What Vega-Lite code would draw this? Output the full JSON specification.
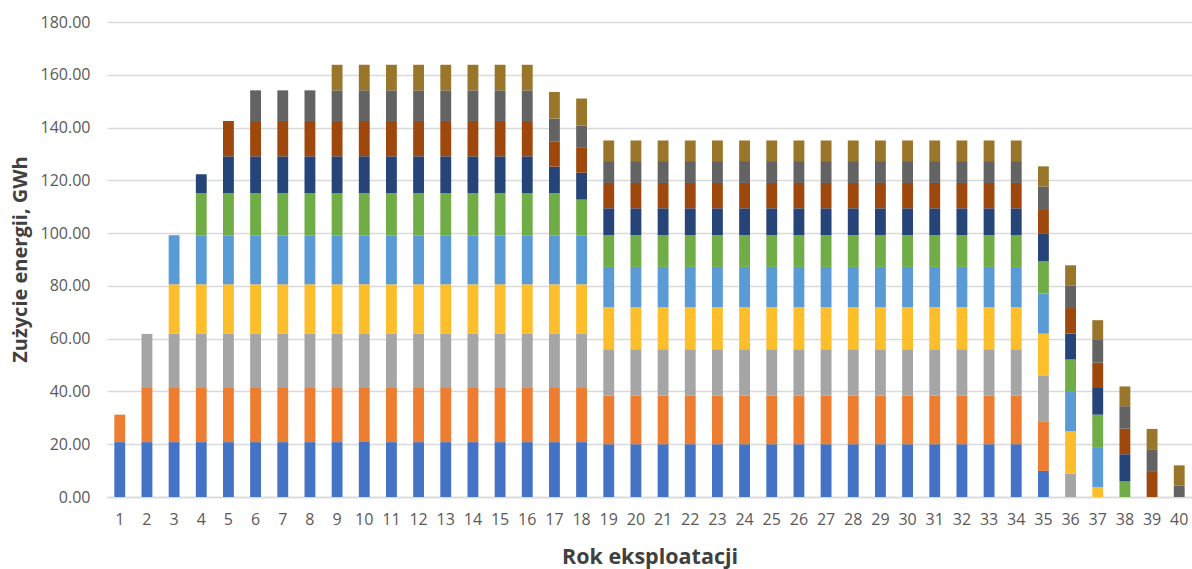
{
  "$schema": "https://vega.github.io/schema/vega-lite/v6.json",
  "width": 1085,
  "height": 475,
  "autosize": {"type": "none"},
  "padding": {"left": 107, "top": 22, "right": 0, "bottom": 72},
  "background": "#ffffff",
  "config": {
    "view": {"stroke": null},
    "font": "Open Sans"
  },
  "data": {
    "values": [
      {"rok": 1, "s01": 20.8, "s02": 10.4},
      {"rok": 2, "s01": 20.8, "s02": 20.5, "s03": 20.5},
      {"rok": 3, "s01": 20.8, "s02": 20.5, "s03": 20.5, "s04": 18.8, "s05": 18.6},
      {"rok": 4, "s01": 20.8, "s02": 20.5, "s03": 20.5, "s04": 18.8, "s05": 18.6, "s06": 16.0, "s07": 7.1},
      {"rok": 5, "s01": 20.8, "s02": 20.5, "s03": 20.5, "s04": 18.8, "s05": 18.6, "s06": 16.0, "s07": 13.9, "s08": 13.4},
      {"rok": 6, "s01": 20.8, "s02": 20.5, "s03": 20.5, "s04": 18.8, "s05": 18.6, "s06": 16.0, "s07": 13.9, "s08": 13.4, "s09": 11.6},
      {"rok": 7, "s01": 20.8, "s02": 20.5, "s03": 20.5, "s04": 18.8, "s05": 18.6, "s06": 16.0, "s07": 13.9, "s08": 13.4, "s09": 11.6},
      {"rok": 8, "s01": 20.8, "s02": 20.5, "s03": 20.5, "s04": 18.8, "s05": 18.6, "s06": 16.0, "s07": 13.9, "s08": 13.4, "s09": 11.6},
      {"rok": 9, "s01": 20.8, "s02": 20.5, "s03": 20.5, "s04": 18.8, "s05": 18.6, "s06": 16.0, "s07": 13.9, "s08": 13.4, "s09": 11.6, "s10": 9.7},
      {"rok": 10, "s01": 20.8, "s02": 20.5, "s03": 20.5, "s04": 18.8, "s05": 18.6, "s06": 16.0, "s07": 13.9, "s08": 13.4, "s09": 11.6, "s10": 9.7},
      {"rok": 11, "s01": 20.8, "s02": 20.5, "s03": 20.5, "s04": 18.8, "s05": 18.6, "s06": 16.0, "s07": 13.9, "s08": 13.4, "s09": 11.6, "s10": 9.7},
      {"rok": 12, "s01": 20.8, "s02": 20.5, "s03": 20.5, "s04": 18.8, "s05": 18.6, "s06": 16.0, "s07": 13.9, "s08": 13.4, "s09": 11.6, "s10": 9.7},
      {"rok": 13, "s01": 20.8, "s02": 20.5, "s03": 20.5, "s04": 18.8, "s05": 18.6, "s06": 16.0, "s07": 13.9, "s08": 13.4, "s09": 11.6, "s10": 9.7},
      {"rok": 14, "s01": 20.8, "s02": 20.5, "s03": 20.5, "s04": 18.8, "s05": 18.6, "s06": 16.0, "s07": 13.9, "s08": 13.4, "s09": 11.6, "s10": 9.7},
      {"rok": 15, "s01": 20.8, "s02": 20.5, "s03": 20.5, "s04": 18.8, "s05": 18.6, "s06": 16.0, "s07": 13.9, "s08": 13.4, "s09": 11.6, "s10": 9.7},
      {"rok": 16, "s01": 20.8, "s02": 20.5, "s03": 20.5, "s04": 18.8, "s05": 18.6, "s06": 16.0, "s07": 13.9, "s08": 13.4, "s09": 11.6, "s10": 9.7},
      {"rok": 17, "s01": 20.8, "s02": 20.5, "s03": 20.5, "s04": 18.8, "s05": 18.6, "s06": 16.0, "s07": 10.0, "s08": 9.6, "s09": 8.6, "s10": 10.1},
      {"rok": 18, "s01": 20.8, "s02": 20.5, "s03": 20.5, "s04": 18.8, "s05": 18.6, "s06": 13.5, "s07": 10.2, "s08": 9.4, "s09": 8.5, "s10": 10.2},
      {"rok": 19, "s01": 20.0, "s02": 18.5, "s03": 17.5, "s04": 16.0, "s05": 15.2, "s06": 12.0, "s07": 10.2, "s08": 9.6, "s09": 8.3, "s10": 7.8},
      {"rok": 20, "s01": 20.0, "s02": 18.5, "s03": 17.5, "s04": 16.0, "s05": 15.2, "s06": 12.0, "s07": 10.2, "s08": 9.6, "s09": 8.3, "s10": 7.8},
      {"rok": 21, "s01": 20.0, "s02": 18.5, "s03": 17.5, "s04": 16.0, "s05": 15.2, "s06": 12.0, "s07": 10.2, "s08": 9.6, "s09": 8.3, "s10": 7.8},
      {"rok": 22, "s01": 20.0, "s02": 18.5, "s03": 17.5, "s04": 16.0, "s05": 15.2, "s06": 12.0, "s07": 10.2, "s08": 9.6, "s09": 8.3, "s10": 7.8},
      {"rok": 23, "s01": 20.0, "s02": 18.5, "s03": 17.5, "s04": 16.0, "s05": 15.2, "s06": 12.0, "s07": 10.2, "s08": 9.6, "s09": 8.3, "s10": 7.8},
      {"rok": 24, "s01": 20.0, "s02": 18.5, "s03": 17.5, "s04": 16.0, "s05": 15.2, "s06": 12.0, "s07": 10.2, "s08": 9.6, "s09": 8.3, "s10": 7.8},
      {"rok": 25, "s01": 20.0, "s02": 18.5, "s03": 17.5, "s04": 16.0, "s05": 15.2, "s06": 12.0, "s07": 10.2, "s08": 9.6, "s09": 8.3, "s10": 7.8},
      {"rok": 26, "s01": 20.0, "s02": 18.5, "s03": 17.5, "s04": 16.0, "s05": 15.2, "s06": 12.0, "s07": 10.2, "s08": 9.6, "s09": 8.3, "s10": 7.8},
      {"rok": 27, "s01": 20.0, "s02": 18.5, "s03": 17.5, "s04": 16.0, "s05": 15.2, "s06": 12.0, "s07": 10.2, "s08": 9.6, "s09": 8.3, "s10": 7.8},
      {"rok": 28, "s01": 20.0, "s02": 18.5, "s03": 17.5, "s04": 16.0, "s05": 15.2, "s06": 12.0, "s07": 10.2, "s08": 9.6, "s09": 8.3, "s10": 7.8},
      {"rok": 29, "s01": 20.0, "s02": 18.5, "s03": 17.5, "s04": 16.0, "s05": 15.2, "s06": 12.0, "s07": 10.2, "s08": 9.6, "s09": 8.3, "s10": 7.8},
      {"rok": 30, "s01": 20.0, "s02": 18.5, "s03": 17.5, "s04": 16.0, "s05": 15.2, "s06": 12.0, "s07": 10.2, "s08": 9.6, "s09": 8.3, "s10": 7.8},
      {"rok": 31, "s01": 20.0, "s02": 18.5, "s03": 17.5, "s04": 16.0, "s05": 15.2, "s06": 12.0, "s07": 10.2, "s08": 9.6, "s09": 8.3, "s10": 7.8},
      {"rok": 32, "s01": 20.0, "s02": 18.5, "s03": 17.5, "s04": 16.0, "s05": 15.2, "s06": 12.0, "s07": 10.2, "s08": 9.6, "s09": 8.3, "s10": 7.8},
      {"rok": 33, "s01": 20.0, "s02": 18.5, "s03": 17.5, "s04": 16.0, "s05": 15.2, "s06": 12.0, "s07": 10.2, "s08": 9.6, "s09": 8.3, "s10": 7.8},
      {"rok": 34, "s01": 20.0, "s02": 18.5, "s03": 17.5, "s04": 16.0, "s05": 15.2, "s06": 12.0, "s07": 10.2, "s08": 9.6, "s09": 8.3, "s10": 7.8},
      {"rok": 35, "s01": 9.9, "s02": 18.8, "s03": 17.4, "s04": 15.8, "s05": 15.2, "s06": 12.2, "s07": 10.4, "s08": 9.4, "s09": 8.6, "s10": 7.6},
      {"rok": 36, "s03": 8.9, "s04": 16.0, "s05": 14.9, "s06": 12.3, "s07": 9.8, "s08": 9.7, "s09": 8.6, "s10": 7.6},
      {"rok": 37, "s04": 3.8, "s05": 15.1, "s06": 12.3, "s07": 10.1, "s08": 9.6, "s09": 8.6, "s10": 7.5},
      {"rok": 38, "s06": 5.9, "s07": 10.3, "s08": 9.7, "s09": 8.5, "s10": 7.5},
      {"rok": 39, "s08": 9.5, "s09": 8.6, "s10": 7.7},
      {"rok": 40, "s09": 4.4, "s10": 7.6}
    ]
  },
  "transform": [
    {"fold": ["s01", "s02", "s03", "s04", "s05", "s06", "s07", "s08", "s09", "s10"], "as": ["seria", "gwh"]},
    {"filter": "isValid(datum.gwh)"}
  ],
  "mark": {"type": "bar"},
  "encoding": {
    "x": {
      "field": "rok",
      "type": "ordinal",
      "sort": "ascending",
      "scale": {"paddingInner": 0.6, "paddingOuter": 0.27},
      "axis": {
        "title": "Rok eksploatacji",
        "labelAngle": 0,
        "labelFont": "Open Sans",
        "labelFontSize": 16,
        "labelColor": "#595959",
        "labelPadding": 14,
        "ticks": false,
        "tickSize": 0,
        "domain": true,
        "domainColor": "#d9d9d9",
        "domainWidth": 1.5,
        "titleFont": "Open Sans",
        "titleFontSize": 21.5,
        "titleFontWeight": "bold",
        "titleColor": "#404040",
        "titleBaseline": "middle",
        "titleY": 60
      }
    },
    "y": {
      "field": "gwh",
      "type": "quantitative",
      "aggregate": "sum",
      "stack": "zero",
      "scale": {"domain": [0, 180], "nice": false},
      "axis": {
        "title": "Zużycie energii, GWh",
        "values": [0, 20, 40, 60, 80, 100, 120, 140, 160, 180],
        "format": ".2f",
        "labelFont": "Open Sans",
        "labelFontSize": 16,
        "labelColor": "#595959",
        "labelPadding": 17,
        "ticks": false,
        "tickSize": 0,
        "domain": false,
        "grid": true,
        "gridColor": "#d9d9d9",
        "gridWidth": 1.5,
        "titleFont": "Open Sans",
        "titleFontSize": 20,
        "titleFontWeight": "bold",
        "titleColor": "#404040",
        "titleAngle": -90,
        "titleBaseline": "middle",
        "titleX": -87,
        "titleY": 237
      }
    },
    "color": {
      "field": "seria",
      "type": "nominal",
      "scale": {
        "domain": ["s01", "s02", "s03", "s04", "s05", "s06", "s07", "s08", "s09", "s10"],
        "range": ["#4472C4", "#ED7D31", "#A5A5A5", "#FDBE2B", "#5B9BD5", "#70AD47", "#264478", "#9E480E", "#636363", "#9A762A"]
      },
      "legend": null
    },
    "order": {"field": "seria", "type": "ordinal", "sort": "ascending"}
  }
}
